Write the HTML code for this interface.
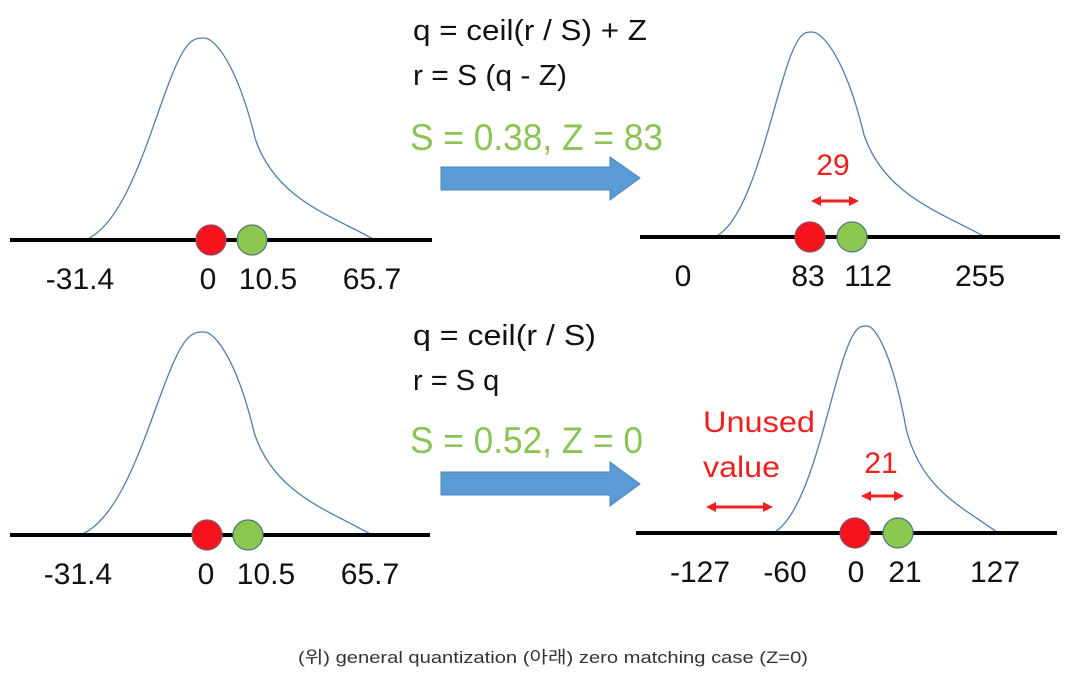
<!DOCTYPE html>
<html><head><meta charset="utf-8"><style>
body{margin:0;background:#fff;}
svg{display:block;font-family:"Liberation Sans","Noto Sans CJK KR",sans-serif;}
</style></head><body>
<svg width="1084" height="675" viewBox="0 0 1084 675">
<defs>
<marker id="ah" markerWidth="10" markerHeight="10" refX="5" refY="5" orient="auto-start-reverse" markerUnits="userSpaceOnUse" viewBox="0 0 10 10"><path d="M0,0L10,5L0,10Z" fill="#f02020"/></marker>
</defs>
<g id="panels"></g>
<g font-size="29" fill="#111">
<text x="413" y="40" textLength="234" lengthAdjust="spacingAndGlyphs">q = ceil(r / S) + Z</text>
<text x="413" y="85" textLength="154" lengthAdjust="spacingAndGlyphs">r = S (q - Z)</text>
<text x="410" y="150" font-size="37" textLength="253" lengthAdjust="spacingAndGlyphs" fill="#8cc355">S = 0.38, Z = 83</text>
</g>
<g font-size="29" fill="#111">
<text x="413" y="345" textLength="183" lengthAdjust="spacingAndGlyphs">q = ceil(r / S)</text>
<text x="413" y="390">r = S q</text>
<text x="410" y="453" font-size="37" textLength="233" lengthAdjust="spacingAndGlyphs" fill="#8cc355">S = 0.52, Z = 0</text>
</g>
<path d="M441,167H610V157L640,178L610,200V190H441Z" fill="#5b9bd5" stroke="#4a86bd"/>
<path d="M441,472H610V462L640,484L610,506V495H441Z" fill="#5b9bd5" stroke="#4a86bd"/>
<g fill="#f02020" font-size="30">
<text x="833" y="175" text-anchor="middle">29</text>
<text x="703" y="432" textLength="112" lengthAdjust="spacingAndGlyphs">Unused</text>
<text x="703" y="477" textLength="77" lengthAdjust="spacingAndGlyphs">value</text>
<text x="881" y="473" text-anchor="middle">21</text>
</g>
<g stroke="#f02020" stroke-width="3" marker-start="url(#ah)" marker-end="url(#ah)">
<line x1="816" y1="201" x2="854" y2="201"/>
<line x1="711" y1="507" x2="768" y2="507"/>
<line x1="866" y1="496" x2="899" y2="496"/>
</g>
<text x="298" y="663" font-size="17" textLength="510" lengthAdjust="spacingAndGlyphs" fill="#333">(위) general quantization (아래) zero matching case (Z=0)</text>
</svg>
<script>
const panelNames=['top-left','top-right','bottom-left','bottom-right'];
const axisY=[240,237,535,533];
const axisX0=[10,640,10,636];
const axisX1=[432,1060,430,1057];
const curveStart=[85,715,80,773];
const curvePeakX=[204,812,204,867];
const curvePeakY=[38,32,332,326];
const curveEnd=[375,985,372,998];
const redX=[211,810,207,855];
const greenX=[252,852,248,898];
const tickText=[['-31.4','0','10.5','65.7'],['0','83','112','255'],['-31.4','0','10.5','65.7'],['-127','-60','0','21','127']];
const tickX=[[80,208,268,372],[683,808,868,980],[78,206,266,370],[700,785,856,905,995]];
const NS='http://www.w3.org/2000/svg';
const g=document.getElementById('panels');
function mk(t,a){const e=document.createElementNS(NS,t);for(const k in a)e.setAttribute(k,a[k]);return e;}
panelNames.forEach((n,i)=>{
  const grp=mk('g',{});
  
  
  const b=axisY[i],s=curveStart[i],px=curvePeakX[i],py=curvePeakY[i],e=curveEnd[i];
  const h=b-py,l=px-s,r=e-px;
  const d=`M${s},${b} C${s+l*0.35},${b-h*0.08} ${s+l*0.55},${b-h*0.55} ${s+l*0.72},${b-h*0.8} C${s+l*0.85},${py} ${px-l*0.08},${py} ${px},${py} C${px+r*0.07},${py} ${px+r*0.2},${b-h*0.85} ${px+r*0.3},${b-h*0.5} C${px+r*0.42},${b-h*0.2} ${px+r*0.75},${b-h*0.12} ${e},${b}`;
  const c=mk('path',{d:d,fill:'none',stroke:'#4f7fae','stroke-width':1.3});
  
  
  grp.appendChild(c);
  const ax=mk('line',{x1:axisX0[i],x2:axisX1[i],y1:b,y2:b,stroke:'#000','stroke-width':4});
  
  
  grp.appendChild(ax);
  const rd=mk('circle',{cx:redX[i],cy:b,r:15,fill:'#f5141e',stroke:'#8a5060','stroke-width':1.2});
  
  
  grp.appendChild(rd);
  const gd=mk('circle',{cx:greenX[i],cy:b,r:15,fill:'#8cc850',stroke:'#4a7a80','stroke-width':1.2});
  
  
  grp.appendChild(gd);
  tickText[i].forEach((t,j)=>{
    const tx=mk('text',{x:tickX[i][j],y:b+49,'text-anchor':'middle','font-size':30,fill:'#111'});
    tx.textContent=t;
    
    
    grp.appendChild(tx);
  });
  g.appendChild(grp);
});
</script>
</body></html>
